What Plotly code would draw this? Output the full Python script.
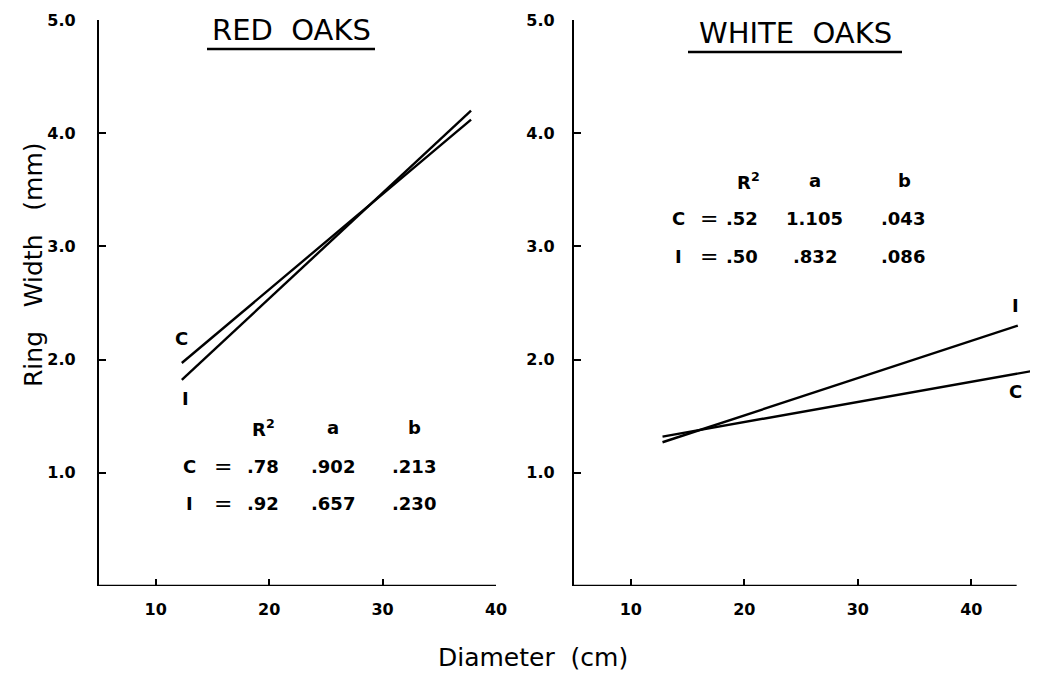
import plotly.graph_objects as go

# ---- data ----
red_c_x = [12.3, 37.8]
red_c_y = [1.97, 4.12]
red_i_x = [12.3, 37.8]
red_i_y = [1.82, 4.20]

white_c_x = [12.8, 45.4]
white_c_y = [1.32, 1.90]
white_i_x = [12.8, 44.1]
white_i_y = [1.27, 2.30]

x_ticks = [10, 20, 30, 40]
y_ticks = [1.0, 2.0, 3.0, 4.0, 5.0]

stat_headers = ["R<sup>2</sup>", "a", "b"]
red_stats_c = [".78", ".902", ".213"]
red_stats_i = [".92", ".657", ".230"]
white_stats_c = [".52", "1.105", ".043"]
white_stats_i = [".50", ".832", ".086"]

# page body has an 8px margin; size the figure so it fits in the window
OFF = 8
W, H = 1038 - OFF, 675 - OFF

def px(xp):
    return (xp - OFF) / W

def py(yp):
    return 1 - (yp - OFF) / H

fig = go.Figure()
line_style = dict(color="black", width=2.4)
for xs, ys in [(red_c_x, red_c_y), (red_i_x, red_i_y)]:
    fig.add_trace(go.Scatter(x=xs, y=ys, mode="lines", line=line_style,
                             xaxis="x", yaxis="y", showlegend=False, hoverinfo="skip"))
for xs, ys in [(white_c_x, white_c_y), (white_i_x, white_i_y)]:
    fig.add_trace(go.Scatter(x=xs, y=ys, mode="lines", line=line_style,
                             xaxis="x2", yaxis="y2", showlegend=False, hoverinfo="skip"))

tickfont = dict(family="DejaVu Sans", size=16, color="black", weight="bold")
common_x = dict(tickmode="array", tickvals=x_ticks, ticks="inside", ticklen=7,
                tickwidth=2, tickcolor="black", showgrid=False, zeroline=False,
                showline=False, tickfont=tickfont, ticklabelstandoff=12, automargin=False)
common_y = dict(tickmode="array", tickvals=y_ticks, tickformat=".1f", ticks="inside",
                ticklen=7, tickwidth=2, tickcolor="black", showgrid=False, zeroline=False,
                showline=True, linecolor="black", linewidth=2.4, tickfont=tickfont,
                range=[0, 5], automargin=False)

y_dom = [py(586), py(20)]
fig.update_layout(
    width=W, height=H,
    margin=dict(l=0, r=0, t=0, b=0, autoexpand=False),
    paper_bgcolor="white", plot_bgcolor="white",
    xaxis=dict(domain=[px(99), px(496)], range=[5, 40], anchor="y", **common_x),
    yaxis=dict(domain=y_dom, anchor="x", ticklabelstandoff=18, **common_y),
    xaxis2=dict(domain=[px(574), px(574 + 40.5 * 11.35)], range=[5, 45.5], anchor="y2", **common_x),
    yaxis2=dict(domain=y_dom, anchor="x2", ticklabelstandoff=14, **common_y),
)

# x-axis lines
fig.add_shape(type="line", xref="x", yref="y", x0=5, x1=40, y0=0, y1=0,
              line=dict(color="black", width=2.4))
fig.add_shape(type="line", xref="x2", yref="y2", x0=5, x1=44, y0=0, y1=0,
              line=dict(color="black", width=2.4))

stat_font = dict(family="DejaVu Sans", size=18, color="black", weight="bold")

def add_text(text, x, y, xref, yref, font=stat_font, **kw):
    fig.add_annotation(text=text, x=x, y=y, xref=xref, yref=yref, showarrow=False,
                       xanchor="center", yanchor="middle", font=font, **kw)

eq_font = dict(family="DejaVu Sans", size=22, color="black")

# line labels
add_text("C", 12.3, 2.19, "x", "y")
add_text("I", 12.6, 1.66, "x", "y")
add_text("I", 43.9, 2.48, "x2", "y2")
add_text("C", 43.9, 1.72, "x2", "y2")

# red oaks table
red_cols = [19.5, 25.6, 32.8]
for t, xc in zip(stat_headers, red_cols):
    add_text(t, xc, 1.40, "x", "y")
for lab, vals, yv in [("C", red_stats_c, 1.06), ("I", red_stats_i, 0.73)]:
    add_text(lab, 13.0, yv, "x", "y")
    add_text("=", 15.9, yv, "x", "y", font=eq_font)
    for v, xc in zip(vals, red_cols):
        add_text(v, xc, yv, "x", "y")

# white oaks table
white_cols = [19.8, 26.2, 34.0]
for t, xc in zip(stat_headers, [20.4, 26.2, 34.1]):
    add_text(t, xc, 3.58, "x2", "y2")
for lab, vals, yv in [("C", white_stats_c, 3.25), ("I", white_stats_i, 2.91)]:
    add_text(lab, 14.2, yv, "x2", "y2")
    add_text("=", 16.9, yv, "x2", "y2", font=eq_font)
    for v, xc in zip(vals, white_cols):
        add_text(v, xc, yv, "x2", "y2")

def add_paper_text(text, xp, yp, font, **kw):
    fig.add_annotation(text=text, x=px(xp), y=py(yp), xref="paper", yref="paper",
                       showarrow=False, xanchor="center", yanchor="middle", font=font, **kw)

# titles with underline
title_font = dict(family="DejaVu Sans", size=29, color="black")
add_paper_text("RED  OAKS", 291, 30, title_font)
fig.add_shape(type="line", xref="paper", yref="paper", x0=px(207), x1=px(375),
              y0=py(49), y1=py(49), line=dict(color="black", width=2.4))
add_paper_text("WHITE  OAKS", 795, 33, title_font)
fig.add_shape(type="line", xref="paper", yref="paper", x0=px(688), x1=px(902),
              y0=py(52), y1=py(52), line=dict(color="black", width=2.4))

# axis titles
axis_title_font = dict(family="DejaVu Sans", size=25, color="black")
add_paper_text("Ring   Width   (mm)", 33, 265, axis_title_font, textangle=-90)
add_paper_text("Diameter  (cm)", 533, 657, axis_title_font)

fig.write_html("out.html")
